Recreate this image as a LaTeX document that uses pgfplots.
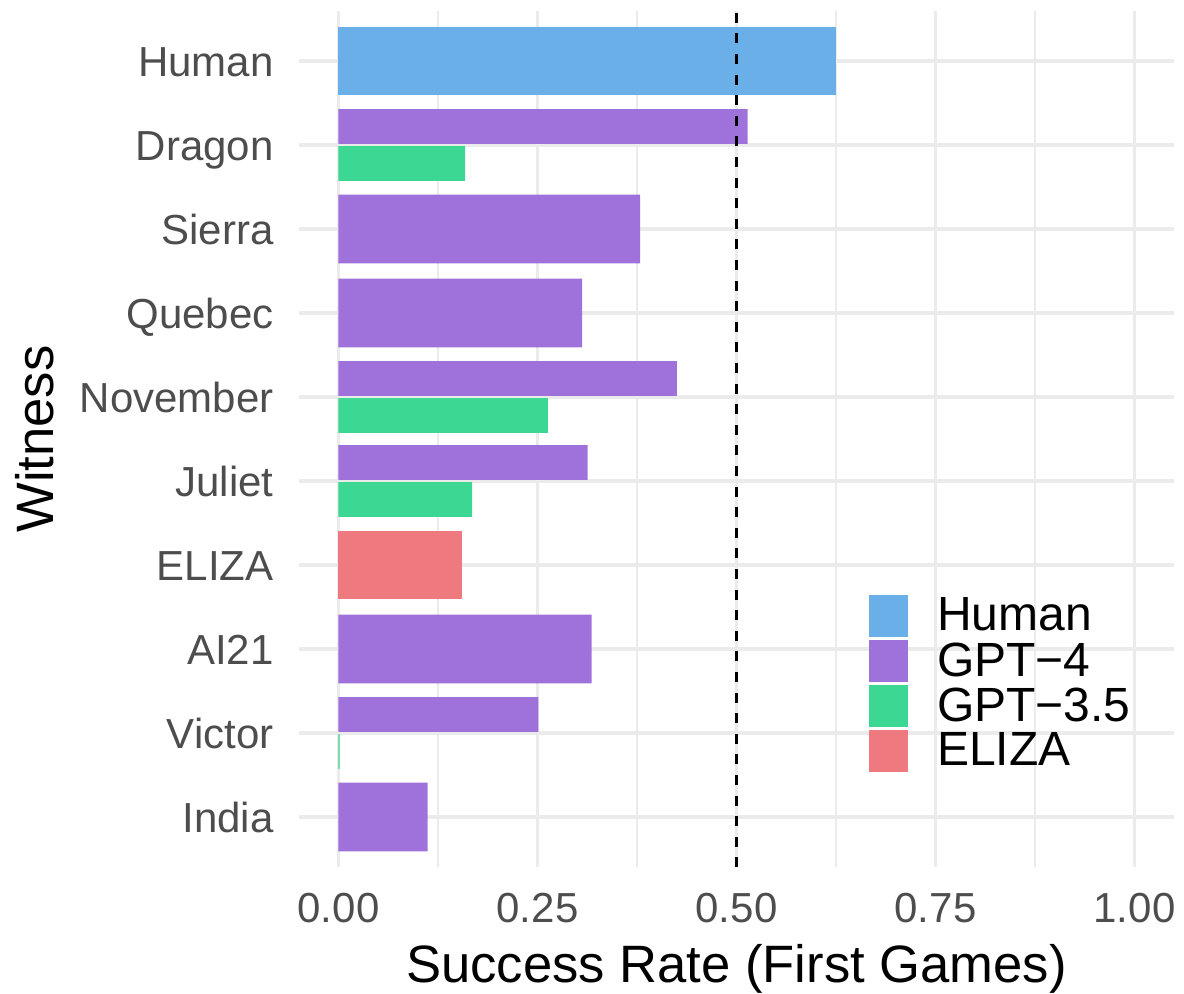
\documentclass[border=0pt]{standalone}
\usepackage{fontspec}
\setmainfont{Liberation Sans}
\usepackage{pgfplots}
\pgfplotsset{compat=1.18}
\definecolor{chuman}{HTML}{6AAFE8}
\definecolor{cgpt4}{HTML}{9E71DB}
\definecolor{cgpt35}{HTML}{3DD794}
\definecolor{celiza}{HTML}{EE7A80}
\definecolor{gridc}{HTML}{EBEBEB}
\definecolor{tickc}{HTML}{4D4D4D}
\begin{document}
\begin{tikzpicture}
\useasboundingbox (-149.35pt,-63.3pt) rectangle (442.65pt,433.7pt);
\begin{axis}[
  scale only axis, width=437.8pt, height=428.4pt,
  xmin=-0.05, xmax=1.05, ymin=-0.6, ymax=9.6,
  xtick={0,0.25,0.5,0.75,1}, xticklabels={0.00,0.25,0.50,0.75,1.00},
  minor xtick={0.125,0.375,0.625,0.875},
  ytick={0,1,2,3,4,5,6,7,8,9},
  yticklabels={India,Victor,AI21,ELIZA,Juliet,November,Quebec,Sierra,Dragon,Human},
  xmajorgrids, xminorgrids, ymajorgrids,
  major grid style={draw=gridc, line width=1.7pt},
  minor grid style={draw=gridc, line width=0.9pt},
  axis line style={draw=none},
  tick style={draw=none},
  major tick length=0pt, minor tick length=0pt,
  xticklabel style={font=\fontsize{21}{25}\selectfont, text=tickc, anchor=base, inner sep=0pt, yshift=-27.8pt},
  yticklabel style={font=\fontsize{21}{25}\selectfont, text=tickc, anchor=base east, inner sep=0pt, xshift=-12.35pt, yshift=-8pt},
  xlabel={Success Rate (First Games)},
  ylabel={Witness},
  xlabel style={font=\fontsize{26.3}{30}\selectfont, at={(axis description cs:0.5,-0.1338)}, anchor=base, inner sep=0pt},
  ylabel style={font=\fontsize{26.3}{30}\selectfont, at={(axis description cs:-0.2806,0.5)}, anchor=base, inner sep=0pt},
  legend image code/.code={\fill[#1] (0pt,-10.5pt) rectangle (19.5pt,10.5pt);},
  legend cell align=left,
  legend style={at={(axis cs:0.6665,2.643)}, anchor=north west, draw=none, fill=none,
    inner sep=0pt, outer sep=0pt, font=\fontsize{24}{28}\selectfont,
    row sep=1.5pt, column sep=14.5pt, nodes={inner sep=0pt}},
]
\addlegendimage{fill=chuman, draw=none}
\addlegendentry{Human}
\addlegendimage{fill=cgpt4, draw=none}
\addlegendentry{GPT−4}
\addlegendimage{fill=cgpt35, draw=none}
\addlegendentry{GPT−3.5}
\addlegendimage{fill=celiza, draw=none}
\addlegendentry{ELIZA}

% Human (full width)
\addplot[xbar, bar width=0.818, bar shift=0pt, fill=chuman, draw=none, forget plot]
  coordinates {(0.625,9)};
% GPT-4 single-model witnesses (full width)
\addplot[xbar, bar width=0.818, bar shift=0pt, fill=cgpt4, draw=none, forget plot]
  coordinates {(0.379,7) (0.306,6) (0.318,2) (0.112,0)};
% GPT-4 dodged
\addplot[xbar, bar width=0.413, bar shift=0pt, fill=cgpt4, draw=none, forget plot]
  coordinates {(0.514,8.221) (0.425,5.221) (0.313,4.221) (0.251,1.221)};
% GPT-3.5 dodged
\addplot[xbar, bar width=0.413, bar shift=0pt, fill=cgpt35, draw=none, forget plot]
  coordinates {(0.159,7.779) (0.263,4.779) (0.168,3.779) (0.0015,0.779)};
% ELIZA
\addplot[xbar, bar width=0.818, bar shift=0pt, fill=celiza, draw=none, forget plot]
  coordinates {(0.155,3)};
% chance line
\addplot[black, line width=1.2pt, dash pattern=on 5pt off 5.3pt, forget plot]
  coordinates {(0.5,-0.6) (0.5,9.6)};
\end{axis}
\end{tikzpicture}
\end{document}
